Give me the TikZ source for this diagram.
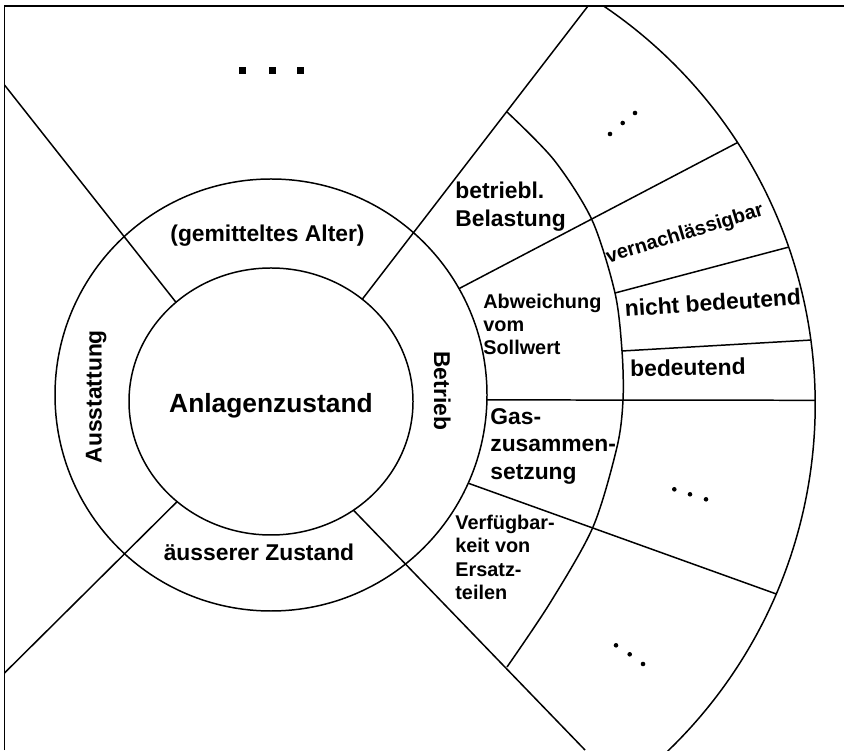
\documentclass[tikz,border=0pt]{standalone}
\usepackage{fontspec}
\setmainfont{Liberation Sans}
\usetikzlibrary{calc}
\tikzset{
  linie/.style={line width=0.85pt},
  txt/.style={inner sep=0pt,font=\bfseries\fontsize{13}{15.5}\selectfont},
  txtklein/.style={inner sep=0pt,font=\bfseries\fontsize{11.3}{13.2}\selectfont},
  titel/.style={inner sep=0pt,font=\bfseries\fontsize{15}{18}\selectfont}
}
\begin{document}
\begin{tikzpicture}[x=0.02cm,y=0.02cm]
	\useasboundingbox (0,0) rectangle (844,750);
	\coordinate (m0) at (271,348.5); % Mitte Kern
	\coordinate (m1) at (271,355);
	\coordinate (m3) at (334.2,345.5);
	% Rahmen
	\draw[line width=1pt] (4.5,0) -- (4.5,744) -- (844,744);
	\begin{scope}[linie]
		\clip (4.5,0) rectangle (844,744);
		\draw (m0) ellipse (142 and 133.5);
		\draw (m1) circle (216);
		\draw ($(m0)+(132:142 and 133.5)$) -- (4.5,665);
		\draw ($(m0)+(50:142 and 133.5)$) -- (588,744);
		\draw ($(m0)+(228.6:142 and 133.5)$) -- (4.5,77);
		\draw ($(m0)+(-54.5:142 and 133.5)$) -- (585,0);
		% Betrieb
		\draw plot[smooth] coordinates {(507,638) (554,590) (592,530) (615,457) (622,399) (623,350) (617,303) (593,223) (550,147) (507,83)};
		\draw ($(m3)+(-47:481)$) arc[start angle=-47,end angle=57,radius=481];
		\draw ($(m1)+(29.5:216)$) -- ($(m3)+(33:481)$);
		\draw ($(m1)+(-1.3:216)$) -- ($(m3)+(0.5:481)$);
		\draw ($(m1)+(-24.1:216)$) -- ($(m3)+(-23.2:481)$);
		\draw (615,457) -- ($(m3)+(19.1:481)$);
		\draw (622,399) -- ($(m3)+(7.7:481)$);
	\end{scope}
	\node[titel,anchor=base] (zustand) at (271,337.7) {Anlagenzustand};
	\node[txt,anchor=base] (alter) at (267.5,508.3) {(gemitteltes Alter)};
	\node[txt,anchor=base] (aussen) at (259,189) {äusserer Zustand};
	\node[txt,anchor=base,rotate=90] (ausstattung) at (101.7,353.3) {Ausstattung};
	\node[txt,anchor=base,rotate=-90] (betrieb) at (434,359.2) {Betrieb};
	\node[txt,anchor=north west,align=left] (belastung) at (455,568) {betriebl.\\Belastung};
	\node[txtklein,anchor=north west,align=left] (abweichung) at (483,456.7) {Abweichung\\vom\\Sollwert};
	\node[txt,anchor=north west,align=left] (gas) at (490,341.7) {Gas-\\zusammen-\\setzung};
	\node[txtklein,anchor=north west,align=left] (ersatz) at (455,235) {Verfügbar-\\keit von\\Ersatz-\\teilen};
	\node[txtklein,anchor=base west,rotate=17] (vernach) at (608,486.7) {vernachlässigbar};
	\node[txt,anchor=base west,rotate=3.8] (nichtbed) at (625,433.3) {nicht bedeutend};
	\node[txt,anchor=base west,rotate=1] (bed) at (630,373.3) {bedeutend};
	% Punkte
	\foreach \p in {242,272,300}
		\fill (\p-3.5,675.5) rectangle (\p+3.5,682.5);
	\foreach \q in {(610,616),(622.7,627),(635,637),(674.3,260.7),(690,255.7),(706,250.7),(616,104.7),(629.7,95.7),(643,86)}
		\fill \q circle (2.3);
\end{tikzpicture}
\end{document}
